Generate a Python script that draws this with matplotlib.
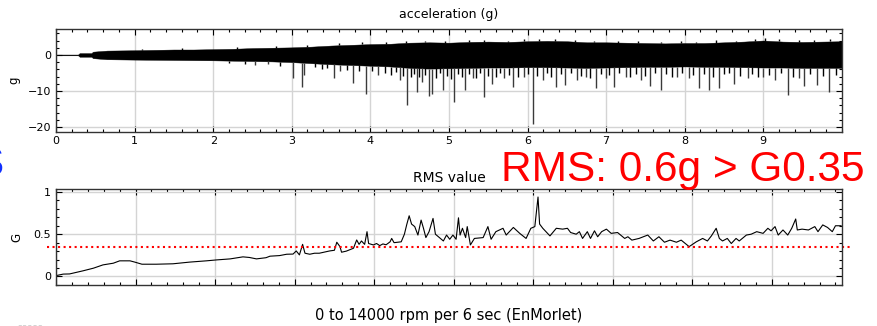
import matplotlib.pyplot as plt
import numpy as np
from matplotlib.ticker import MultipleLocator, FormatStrFormatter

# acceleration signal: envelope of the dense trace
env_x = [0, 0.28, 0.30, 0.45, 0.47, 0.65, 1.0, 1.25, 1.5, 1.75, 2.0, 2.25, 2.5, 2.75, 3.0,
         3.25, 3.5, 3.75, 4.0, 4.25, 4.5, 4.75, 5.0, 5.25, 5.5, 5.75, 6.0, 6.25, 6.5, 6.75,
         7.0, 7.25, 7.5, 7.75, 8.0, 8.25, 8.5, 8.75, 9.0, 9.25, 9.5, 9.75, 10.0]
env_hi = [0.1, 0.1, 0.5, 0.5, 0.9, 1.2, 1.3, 1.4, 1.5, 1.5, 1.6, 1.7, 1.9, 2.0, 2.1,
          2.3, 2.6, 2.8, 3.0, 3.1, 3.4, 3.5, 3.4, 3.6, 3.7, 3.6, 3.8, 3.9, 3.8, 3.5,
          3.5, 3.4, 3.3, 3.2, 3.3, 3.3, 3.5, 3.7, 4.0, 3.7, 3.6, 3.7, 3.8]
env_lo = [-0.1, -0.1, -0.5, -0.5, -0.9, -1.2, -1.3, -1.35, -1.4, -1.45, -1.5, -1.6, -1.7, -1.8, -2.0,
          -2.3, -2.6, -2.8, -3.0, -3.2, -3.6, -3.8, -3.7, -3.6, -3.5, -3.5, -3.4, -3.4, -3.5, -3.6,
          -3.5, -3.4, -3.3, -3.3, -3.2, -3.3, -3.3, -3.4, -3.5, -3.5, -3.6, -3.6, -3.6]

# long downward spikes
spk_x = [2.53, 2.70, 3.02, 3.13, 3.16, 3.54, 3.62, 3.78, 3.94, 4.10, 4.38, 4.46, 4.59, 4.66,
         4.74, 4.78, 4.92, 5.07, 5.21, 5.30, 5.44, 5.55, 5.70, 5.82, 5.95, 6.07, 6.20, 6.36,
         6.48, 6.63, 6.75, 6.87, 7.00, 7.10, 7.25, 7.45, 7.56, 7.70, 7.90, 8.05, 8.18, 8.31,
         8.44, 8.63, 8.80, 9.00, 9.15, 9.31, 9.45, 9.52, 9.69, 9.84]
spk_y = [-2.8, -2.6, -6.3, -8.8, -5.6, -6.3, -4.5, -7.9, -10.9, -5.5, -7.0, -13.9, -10.2, -7.5,
         -11.3, -10.8, -9.7, -13.0, -9.7, -6.5, -11.6, -8.0, -6.5, -8.8, -6.0, -19.2, -7.0, -8.8,
         -8.3, -6.9, -6.0, -9.3, -6.5, -8.8, -6.0, -6.9, -8.6, -9.7, -6.0, -6.5, -9.1, -9.7,
         -9.3, -8.0, -6.5, -6.0, -7.0, -11.1, -6.5, -8.6, -8.3, -10.2]

# shorter downward spikes along the lower edge
mid_x = [2.20, 2.40, 2.85, 3.30, 3.38, 3.45, 3.70, 3.86, 4.02, 4.18, 4.26, 4.32, 4.42, 4.52,
         4.56, 4.62, 4.70, 4.84, 4.88, 4.97, 5.02, 5.12, 5.16, 5.26, 5.35, 5.40, 5.50, 5.60,
         5.65, 5.76, 5.88, 6.00, 6.12, 6.25, 6.30, 6.42, 6.55, 6.68, 6.80, 6.93, 7.04, 7.16,
         7.30, 7.38, 7.50, 7.62, 7.76, 7.84, 7.97, 8.10, 8.24, 8.36, 8.50, 8.57, 8.70, 8.86,
         8.93, 9.07, 9.22, 9.38, 9.60, 9.76, 9.92]
mid_y = [-2.2, -2.4, -3.0, -3.4, -4.0, -3.6, -4.2, -4.6, -4.4, -5.0, -5.6, -4.8, -5.8, -6.0,
         -5.2, -6.2, -5.5, -6.4, -5.0, -5.8, -6.6, -5.4, -6.0, -5.2, -6.4, -5.0, -5.8, -6.2,
         -5.0, -5.6, -6.0, -5.2, -5.8, -5.0, -6.2, -5.4, -5.0, -5.8, -6.4, -5.2, -5.6, -5.0,
         -6.0, -5.2, -5.8, -5.0, -5.4, -6.2, -5.0, -5.6, -5.2, -6.0, -5.4, -5.0, -5.8, -5.2,
         -6.0, -5.6, -5.0, -6.2, -5.4, -5.8, -5.6]

# upward spikes along the upper edge
up_x = [1.10, 1.60, 2.30, 2.80, 3.20, 3.60, 3.90, 4.20, 4.45, 4.70, 4.95, 5.25, 5.45, 5.75,
        5.95, 6.15, 6.35, 6.60, 6.85, 7.15, 7.40, 7.70, 7.95, 8.15, 8.40, 8.65, 8.90, 9.02,
        9.20, 9.45, 9.65, 9.85]
up_y = [1.7, 1.9, 2.2, 2.5, 2.8, 3.3, 3.5, 3.7, 3.9, 4.0, 4.0, 4.1, 4.2, 4.0,
        4.3, 4.5, 4.4, 4.2, 3.9, 3.9, 3.8, 3.7, 3.8, 3.7, 4.1, 4.0, 4.3, 4.8,
        4.3, 4.2, 4.1, 4.3]

# RMS value
rms_x = [0.00, 0.09, 0.17, 0.34, 0.47, 0.59, 0.72, 0.80, 0.93, 0.99, 1.08, 1.26, 1.47, 1.68,
         1.89, 2.02, 2.19, 2.35, 2.43, 2.52, 2.64, 2.69, 2.81, 2.90, 2.98, 3.02, 3.06, 3.10,
         3.13, 3.19, 3.25, 3.31, 3.44, 3.50, 3.53, 3.57, 3.59, 3.65, 3.74, 3.78, 3.81, 3.84,
         3.88, 3.91, 3.93, 3.99, 4.03, 4.07, 4.11, 4.15, 4.20, 4.22, 4.25, 4.34, 4.38, 4.41,
         4.44, 4.47, 4.51, 4.55, 4.59, 4.62, 4.65, 4.69, 4.74, 4.77, 4.82, 4.87, 4.91, 4.95,
         4.99, 5.03, 5.06, 5.08, 5.11, 5.15, 5.17, 5.21, 5.26, 5.37, 5.43, 5.47, 5.53, 5.62,
         5.66, 5.70, 5.75, 5.83, 5.91, 5.97, 6.02, 6.06, 6.08, 6.12, 6.21, 6.29, 6.37, 6.43,
         6.47, 6.54, 6.58, 6.62, 6.68, 6.72, 6.77, 6.81, 6.86, 6.92, 6.98, 7.06, 7.15, 7.19,
         7.24, 7.33, 7.44, 7.51, 7.58, 7.65, 7.72, 7.80, 7.86, 7.96, 8.05, 8.13, 8.19, 8.24,
         8.30, 8.34, 8.38, 8.44, 8.49, 8.55, 8.59, 8.68, 8.74, 8.81, 8.89, 8.95, 8.99, 9.04,
         9.08, 9.14, 9.20, 9.25, 9.30, 9.32, 9.38, 9.46, 9.54, 9.58, 9.64, 9.70, 9.76, 9.80, 9.87]
rms_y = [0.01, 0.028, 0.03, 0.067, 0.098, 0.137, 0.157, 0.185, 0.185, 0.17, 0.145, 0.145, 0.15, 0.17,
         0.185, 0.196, 0.208, 0.232, 0.225, 0.208, 0.222, 0.24, 0.247, 0.263, 0.265, 0.302, 0.255, 0.38,
         0.275, 0.263, 0.275, 0.275, 0.302, 0.31, 0.405, 0.353, 0.287, 0.30, 0.334, 0.432, 0.38, 0.42,
         0.38, 0.53, 0.39, 0.373, 0.39, 0.365, 0.385, 0.375, 0.41, 0.45, 0.40, 0.41, 0.50, 0.616,
         0.718, 0.62, 0.59, 0.49, 0.667, 0.57, 0.46, 0.53, 0.687, 0.50, 0.46, 0.42, 0.49, 0.44,
         0.49, 0.44, 0.694, 0.49, 0.57, 0.46, 0.59, 0.373, 0.45, 0.46, 0.59, 0.44, 0.53, 0.57,
         0.49, 0.53, 0.58, 0.51, 0.45, 0.57, 0.59, 0.94, 0.62, 0.57, 0.48, 0.57, 0.56, 0.57,
         0.52, 0.50, 0.53, 0.45, 0.53, 0.45, 0.54, 0.47, 0.53, 0.56, 0.51, 0.52, 0.45, 0.47,
         0.43, 0.45, 0.49, 0.42, 0.47, 0.405, 0.43, 0.405, 0.43, 0.353, 0.41, 0.45, 0.42, 0.48,
         0.57, 0.45, 0.42, 0.45, 0.39, 0.45, 0.42, 0.49, 0.50, 0.53, 0.51, 0.57, 0.54, 0.59,
         0.49, 0.55, 0.49, 0.57, 0.68, 0.55, 0.56, 0.55, 0.59, 0.53, 0.61, 0.58, 0.53, 0.60, 0.60]
limit = 0.35

plt.rcParams['font.family'] = 'DejaVu Sans'
fig = plt.figure(figsize=(8.77, 3.26), dpi=100)
ax1 = fig.add_axes([0.0639, 0.595, 0.896, 0.315])
ax2 = fig.add_axes([0.0639, 0.126, 0.896, 0.293])


def style(ax):
    ax.tick_params(which='both', direction='in', top=True, right=True, labelsize=8, width=0.8)
    ax.tick_params(which='major', length=4)
    ax.tick_params(which='minor', length=2.5)
    ax.grid(True, which='major', color='#d4d4d4', lw=1)
    ax.set_axisbelow(True)
    for s in ax.spines.values():
        s.set_color('#333333')
        s.set_linewidth(1)


# top: acceleration
ax1.fill_between(env_x, env_lo, env_hi, color='black', lw=0.3, edgecolor='black')
ax1.vlines(mid_x, np.interp(mid_x, env_x, env_lo), mid_y, color='black', lw=1.0)
ax1.vlines(up_x, np.interp(up_x, env_x, env_hi), up_y, color='black', lw=1.0)
ax1.vlines(spk_x, np.interp(spk_x, env_x, env_lo), spk_y, color='#3a3a3a', lw=1.0)
ax1.set_xlim(0, 10.0)
ax1.set_ylim(-21.4, 7.1)
ax1.set_xticks(range(10))
ax1.set_yticks([0, -10, -20])
ax1.xaxis.set_minor_locator(MultipleLocator(0.2))
ax1.yaxis.set_minor_locator(MultipleLocator(2))
style(ax1)
ax1.tick_params(axis='x', pad=3)
ax1.set_title('acceleration (g)', fontsize=9, pad=8)
ax1.set_ylabel('g', fontsize=8.5, labelpad=5)

# bottom: RMS
ax2.plot(rms_x, rms_y, color='black', lw=0.8)
ax2.plot([-0.0115, 1.010], [limit, limit], color='red', ls=':', lw=1.5,
         transform=ax2.get_yaxis_transform(), clip_on=False)
ax2.set_xlim(0, 9.88)
ax2.set_ylim(-0.1, 1.03)
ax2.set_xticks(range(10))
ax2.set_yticks([0, 0.5, 1])
ax2.yaxis.set_major_formatter(FormatStrFormatter('%g'))
ax2.xaxis.set_minor_locator(MultipleLocator(0.2))
ax2.yaxis.set_minor_locator(MultipleLocator(0.1))
style(ax2)
ax2.set_xticklabels([])
ax2.set_title('RMS value', fontsize=10, pad=5)
ax2.set_ylabel('G', fontsize=8.5, labelpad=7)
ax2.set_xlabel('0 to 14000 rpm per 6 sec (EnMorlet)', fontsize=10.5, labelpad=13)

# overlay annotations
fig.text(501 / 877, 1 - 181.5 / 326, 'RMS: 0.6g > G0.35', color='red', fontsize=30.5,
         family='Liberation Sans', va='baseline', ha='left')
fig.text(3 / 877, 1 - 176 / 326, 'S', color='#1030ff', fontsize=30.5,
         family='Liberation Sans', va='baseline', ha='right')
fig.text(17 / 877, -0.012, '22222', color='#c8c8c8', fontsize=6, va='center', ha='left')

fig.savefig('out.png', dpi=100)
